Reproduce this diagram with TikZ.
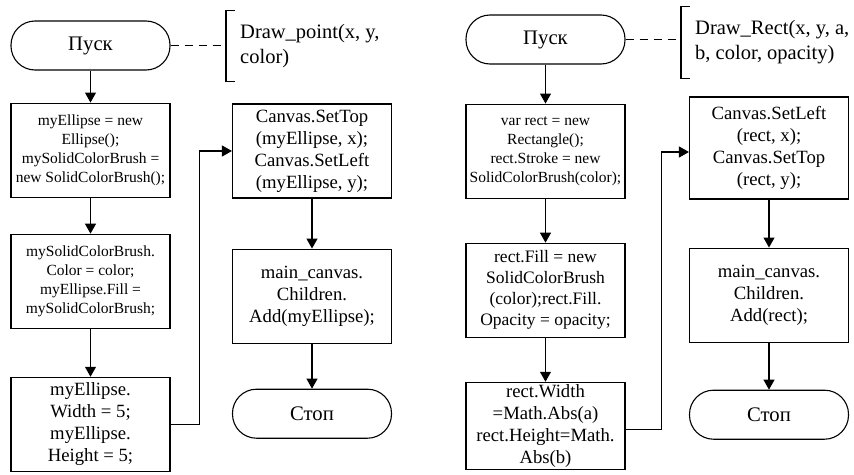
\documentclass[tikz,border=0pt]{standalone}
\usepackage{fontspec}
\setmainfont{Liberation Serif}
\usetikzlibrary{positioning, arrows.meta}
\tikzset{
  bx/.style={draw, line width=1.1pt, align=center, minimum width=159pt,
             inner sep=2pt, font=\fontsize{18.7}{22}\selectfont},
  proc/.style={bx, minimum height=94pt},
  sm/.style={font=\fontsize{15.5}{19}\selectfont},
  md/.style={font=\fontsize{17.5}{21}\selectfont},
  term/.style={bx, rounded corners=24pt, minimum height=49pt,
               font=\fontsize{20.7}{24}\selectfont},
  note/.style={align=left, anchor=west, inner xsep=14pt, minimum height=71pt,
               font=\fontsize{20.5}{25}\selectfont},
  ar/.style={-{Triangle[length=10pt, width=11pt]}, line width=1.1pt},
  dl/.style={dash pattern=on 8pt off 6pt, line width=1.1pt},
}

\begin{document}
\begin{tikzpicture}[x=1pt, y=-1pt]
  \useasboundingbox (0,0) rectangle (854,474);

  % Draw_point
  \node[term] (start1) at (90.5,45.5) {Пуск};
  \node[note] (par1) at (226,46) {Draw\_point(x, y,\\color)};
  \node[proc, sm, below=32pt of start1] (a1)
       {myEllipse = new\\Ellipse();\\mySolidColorBrush =\\new SolidColorBrush();};
  \node[proc, sm, below=36pt of a1] (a2)
       {mySolidColorBrush.\\Color = color;\\myEllipse.Fill =\\mySolidColorBrush;};
  \node[proc, below=48pt of a2] (a3)
       {myEllipse.\\Width = 5;\\myEllipse.\\Height = 5;};
  \node[proc] (b1) at (312,151)
       {Canvas.SetTop\\(myEllipse, x);\\Canvas.SetLeft\\(myEllipse, y);};
  \node[proc, below=50pt of b1] (b2)
       {main\_canvas.\\Children.\\Add(myEllipse);};
  \node[term, below=45pt of b2] (stop1) {Стоп};

  % Draw_Rect
  \node[term] (start2) at (545.5,39.5) {Пуск};
  \node[note] (par2) at (681,42.5) {Draw\_Rect(x, y, a,\\b, color, opacity)};
  \node[proc, sm, below=39pt of start2] (c1)
       {var rect = new\\Rectangle();\\rect.Stroke = new\\SolidColorBrush(color);};
  \node[proc, md, below=44pt of c1] (c2)
       {rect.Fill = new\\SolidColorBrush\\(color);rect.Fill.\\Opacity = opacity;};
  \node[proc, minimum height=87pt, below=44pt of c2] (c3)
       {rect.Width\\=Math.Abs(a)\\rect.Height=Math.\\Abs(b)};
  \node[proc, minimum height=102pt] (d1) at (769,148)
       {Canvas.SetLeft\\(rect, x);\\Canvas.SetTop\\(rect, y);};
  \node[proc, below=48pt of d1] (d2)
       {main\_canvas.\\Children.\\Add(rect);};
  \node[term, below=47pt of d2] (stop2) {Стоп};

  % brackets
  \foreach \p in {par1, par2}
    \draw[line width=1.1pt] ([xshift=9pt]\p.north west) -- (\p.north west)
         -- (\p.south west) -- ([xshift=9pt]\p.south west);
  \draw[dl] (start1.east) -- (start1.east -| par1.west);
  \draw[dl] (start2.east) -- (start2.east -| par2.west);

  \draw[ar] (start1) -- (a1);
  \draw[ar] (a1) -- (a2);
  \draw[ar] (a2) -- (a3);
  \draw[ar] (a3.east) -- ++(29pt,0) |- (b1.west);
  \draw[ar] (b1) -- (b2);
  \draw[ar] (b2) -- (stop1);

  \draw[ar] (start2) -- (c1);
  \draw[ar] (c1) -- (c2);
  \draw[ar] (c2) -- (c3);
  \draw[ar] ([yshift=-3.5pt]c3.east) -- ++(36pt,0) |- ([yshift=-4pt]d1.west);
  \draw[ar] (d1) -- (d2);
  \draw[ar] (d2) -- (stop2);
\end{tikzpicture}
\end{document}
